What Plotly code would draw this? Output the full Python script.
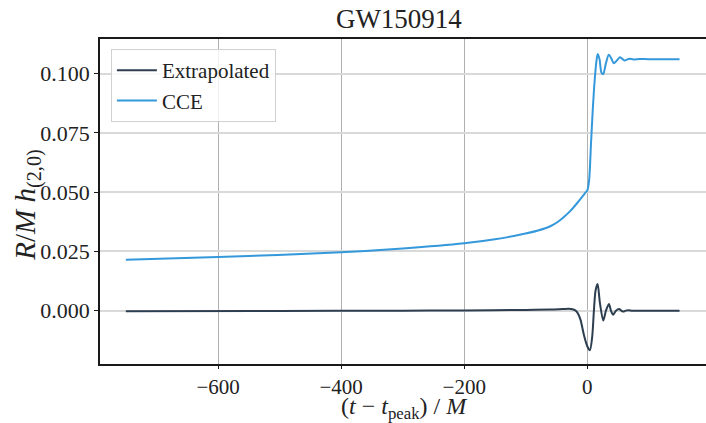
import plotly.graph_objects as go

# (2,0) strain mode for GW150914: extrapolated waveform vs. CCE waveform
t_cce = [-750, -600, -400, -300, -200, -150, -110, -80, -60, -47, -38, -27, -17, -9, -3, 0,
         3, 6, 9, 12, 15, 17, 20, 23, 26, 30, 35, 39, 43, 48, 53, 57, 61, 65, 69, 75, 85, 100, 150]
h_cce = [0.0215, 0.0226, 0.0246, 0.0262, 0.0284, 0.0301, 0.0320, 0.0338, 0.0356, 0.0376, 0.0395,
         0.0422, 0.0452, 0.0478, 0.0498, 0.0507,
         0.0550, 0.0700, 0.0850, 0.0970, 0.1055, 0.1083, 0.1060, 0.1005, 0.0998, 0.1040, 0.1080,
         0.1065, 0.1044, 0.1055, 0.1069, 0.1062, 0.1055, 0.1060, 0.1063, 0.1060, 0.1062, 0.1061, 0.1061]

t_ext = [-750, -500, -300, -200, -100, -60, -40, -30, -24, -20, -16, -11, -5.6, 0, 4.3, 8.1,
         10.8, 13.5, 16.8, 20.6, 26, 30.4, 35.2, 38.5, 41.8, 46.7, 51.6, 55.4, 58.7, 62.5, 66.8,
         73, 80, 150]
h_ext = [-0.0002, -0.0001, 0.0, 0.0001, 0.0003, 0.0005, 0.0007, 0.0008, 0.0006, 0.0002, -0.0008,
         -0.0038, -0.0101, -0.0150, -0.0167, -0.0108,
         0.0, 0.0085, 0.0112, 0.0032, -0.0042, 0.0, 0.0028, 0.0, -0.0017, 0.0, 0.0007, 0.0,
         -0.0004, 0.0, 0.0002, 0.0, 0.0, 0.0]

x_ticks = [-600, -400, -200, 0]
y_ticks = [0.000, 0.025, 0.050, 0.075, 0.100]

DARK = "#2c3e50"
LIGHT = "#3498db"
FONT = "Liberation Serif"
INK = "#222222"

fig = go.Figure()
fig.add_trace(go.Scatter(x=t_ext, y=h_ext, mode="lines", name="Extrapolated",
                         line=dict(color=DARK, width=2, shape="spline", smoothing=0.8)))
fig.add_trace(go.Scatter(x=t_cce, y=h_cce, mode="lines", name="CCE",
                         line=dict(color=LIGHT, width=2, shape="spline", smoothing=0.8)))

fig.update_layout(
    width=706, height=423,
    margin=dict(l=100, r=0, t=39, b=59),
    paper_bgcolor="white", plot_bgcolor="white",
    font=dict(family=FONT, color=INK, size=22),
    title=dict(text="GW150914", x=0.565, xanchor="center", y=0.955, yanchor="middle",
               font=dict(family=FONT, size=27, color=INK)),
    showlegend=True,
    legend=dict(x=0.018, y=0.969, xanchor="left", yanchor="top",
                bgcolor="rgba(255,255,255,0.8)", bordercolor="#d0d0d0", borderwidth=1,
                font=dict(family=FONT, size=21, color=INK),
                tracegroupgap=2, itemwidth=40),
)

# axis titles as annotations so they sit at fixed offsets from the frame
fig.add_annotation(text="(<i>t</i> \u2212 <i>t</i><sub>peak</sub>) / <i>M</i>",
                   xref="paper", yref="paper", x=0.503, y=0, xanchor="center",
                   yanchor="bottom", yshift=-60, showarrow=False, borderpad=0,
                   font=dict(family=FONT, size=24, color=INK))
fig.add_annotation(text="<i>R</i>/<i>M</i> <i>h</i><sub>(2,0)</sub>",
                   xref="paper", yref="paper", x=0, y=0.49, xanchor="center",
                   yanchor="middle", xshift=-72, textangle=-90, showarrow=False,
                   font=dict(family=FONT, size=29, color=INK))

fig.update_xaxes(
    range=[-792, 193], tickvals=x_ticks, ticktext=["\u2212600", "\u2212400", "\u2212200", "0"],
    automargin=False,
    showgrid=True, gridcolor="#b0b0b0", gridwidth=1, zeroline=False,
    showline=True, linecolor="#1a1a1a", linewidth=1.5, mirror=True,
    ticks="outside", ticklen=3, tickcolor="#1a1a1a",
    tickfont=dict(family=FONT, size=21),
)
fig.update_yaxes(
    range=[-0.0225, 0.1146], tickvals=y_ticks,
    ticktext=["0.000", "0.025", "0.050", "0.075", "0.100"],
    automargin=False,
    showgrid=True, gridcolor="#d9d9d9", gridwidth=1.5, zeroline=False,
    showline=True, linecolor="#1a1a1a", linewidth=1.5,
    ticks="outside", ticklen=4, tickcolor="#1a1a1a",
    tickfont=dict(family=FONT, size=22),
)

fig.write_html("out.html")
